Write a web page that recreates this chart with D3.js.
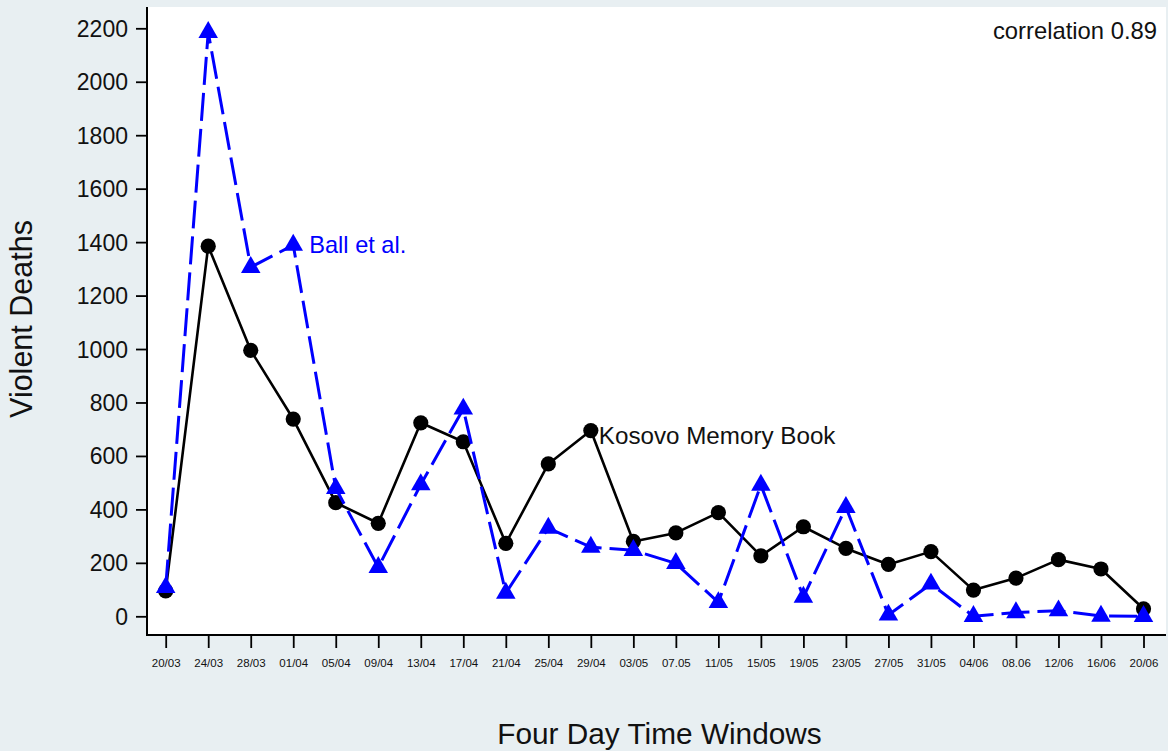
<!DOCTYPE html>
<html>
<head>
<meta charset="utf-8">
<script src="https://cdn.jsdelivr.net/npm/d3@7"></script>
<style>
  html, body { margin: 0; padding: 0; background: #e8eff2; }
  svg { display: block; font-family: "Liberation Sans", Arial, sans-serif; }
</style>
</head>
<body>
<svg id="chart" width="1168" height="751"></svg>
<script>
// ---- data ----
const categories = ["20/03","24/03","28/03","01/04","05/04","09/04","13/04","17/04","21/04","25/04","29/04","03/05",
                    "07.05","11/05","15/05","19/05","23/05","27/05","31/05","04/06","08.06","12/06","16/06","20/06"];
const kosovoMemoryBook = [95,1385,995,738,425,348,724,653,273,570,695,280,
                          312,388,226,335,254,194,242,98,143,212,177,28];
const ballEtAl = [108,2185,1306,1389,479,183,493,776,87,330,259,247,
                  198,52,491,72,408,5,121,0,14,21,1,0];
const yTicks = [0,200,400,600,800,1000,1200,1400,1600,1800,2000,2200];
const seriesNames = ["Kosovo Memory Book","Ball et al."];
const correlationText = "correlation 0.89";
const xTitle = "Four Day Time Windows";
const yTitle = "Violent Deaths";

// ---- layout ----
const W = 1168, H = 751;
const plot = {left: 147, right: 1166, top: 7, bottom: 635};
const svg = d3.select("#chart");

svg.append("rect").attr("x",0).attr("y",0).attr("width",W).attr("height",H).attr("fill","#e8eff2");
svg.append("rect").attr("x",plot.left).attr("y",plot.top)
   .attr("width",plot.right-plot.left).attr("height",plot.bottom-plot.top).attr("fill","#ffffff");

const x = d3.scalePoint().domain(categories).range([165.7, 1143.5]);
const y = d3.scaleLinear().domain([0,2200]).range([616.3, 28.3]);

// y axis
const yAxis = svg.append("g").attr("transform",`translate(${plot.left},0)`)
  .call(d3.axisLeft(y).tickValues(yTicks).tickFormat(d3.format("d"))
        .tickSize(11).tickPadding(8).tickSizeOuter(0));
yAxis.select(".domain").remove();
yAxis.selectAll(".tick line").attr("stroke","#000").attr("stroke-width",1.8);
yAxis.selectAll(".tick text").attr("font-size","23px").attr("fill","#111")
  .attr("font-family","'Liberation Sans', Arial, sans-serif").attr("dy","0.35em");

// x axis
const xAxis = svg.append("g").attr("transform",`translate(0,${plot.bottom})`)
  .call(d3.axisBottom(x).tickSize(13).tickPadding(11).tickSizeOuter(0));
xAxis.select(".domain").remove();
xAxis.selectAll(".tick line").attr("stroke","#000").attr("stroke-width",1.8);
xAxis.selectAll(".tick text").attr("font-size","11.5px").attr("fill","#111")
  .attr("font-family","'Liberation Sans', Arial, sans-serif");

// axis lines
svg.append("line").attr("x1",plot.left).attr("x2",plot.left).attr("y1",plot.top).attr("y2",plot.bottom+1)
   .attr("stroke","#000").attr("stroke-width",2);
svg.append("line").attr("x1",plot.left-1).attr("x2",plot.right).attr("y1",plot.bottom).attr("y2",plot.bottom)
   .attr("stroke","#000").attr("stroke-width",2);

// series
const line = d3.line().x((d,i)=>x(categories[i])).y(d=>y(d));

svg.append("path").datum(kosovoMemoryBook).attr("d",line)
   .attr("fill","none").attr("stroke","#000").attr("stroke-width",2.6).attr("stroke-linejoin","round");
svg.append("g").selectAll("circle").data(kosovoMemoryBook).join("circle")
   .attr("cx",(d,i)=>x(categories[i])).attr("cy",d=>y(d)).attr("r",7.6).attr("fill","#000");

svg.append("path").datum(ballEtAl).attr("d",line)
   .attr("fill","none").attr("stroke","#0000ff").attr("stroke-width",3)
   .attr("stroke-dasharray","28,8");
const tri = d3.symbol().type(d3.symbolTriangle).size(165);
svg.append("g").selectAll("path").data(ballEtAl).join("path")
   .attr("d",tri)
   .attr("transform",(d,i)=>`translate(${x(categories[i])},${y(d)})`)
   .attr("fill","#0000ff");

// series labels
svg.append("text").attr("x", x(categories[10]) + 8).attr("y", y(kosovoMemoryBook[10]) + 13)
   .attr("font-size","24.2px").attr("fill","#111").text(seriesNames[0]);
svg.append("text").attr("x", x(categories[3]) + 16).attr("y", y(ballEtAl[3]) + 8)
   .attr("font-size","23.6px").attr("fill","#0000ff").text(seriesNames[1]);

// correlation
svg.append("text").attr("x",1157).attr("y",39).attr("text-anchor","end")
   .attr("font-size","23.8px").attr("fill","#111").text(correlationText);

// axis titles
svg.append("text").attr("transform","translate(32,319) rotate(-90)").attr("text-anchor","middle")
   .attr("font-size","30.5px").attr("fill","#111").text(yTitle);
svg.append("text").attr("x",659.5).attr("y",744).attr("text-anchor","middle")
   .attr("font-size","29.8px").attr("fill","#111").text(xTitle);
</script>
</body>
</html>
